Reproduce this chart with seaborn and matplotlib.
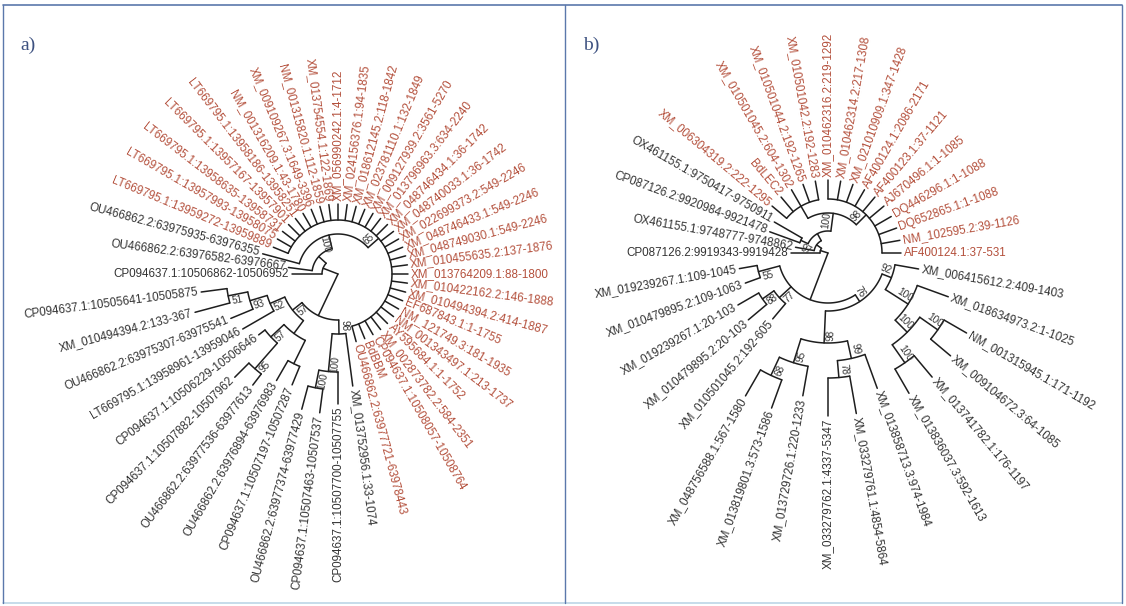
import numpy as np
import pandas as pd
import seaborn as sns
import matplotlib.pyplot as plt

# leaves listed in the order they sit around the circle (clockwise from 9 o'clock)
labels_a = [
    'CP094637.1:10506862-10506952', 'OU466862.2:63976582-63976667', 'OU466862.2:63975935-63976355',
    'LT669795.1:13959272-13959889', 'LT669795.1:13957993-13958075', 'LT669795.1:13958635-13958731',
    'LT669795.1:13957167-13957901', 'LT669795.1:13958186-13958251',
    'NM_001316209.1:43-1780', 'XM_009109267.3:1649-3396', 'NM_001315820.1:112-1859',
    'XM_013754554.1:122-1869', 'XM_056990242.1:4-1712', 'XM_024156376.1:94-1835',
    'XM_018612145.2:118-1842', 'XM_023781110.1:132-1849', 'XM_009127939.2:3561-5270',
    'XM_013796963.3:634-2240', 'XM_048746434.1:36-1742', 'XM_048740033.1:36-1742',
    'XM_022699373.2:549-2246', 'XM_048746433.1:549-2246', 'XM_048749030.1:549-2246',
    'XM_010455635.2:137-1876', 'XM_013764209.1:88-1800', 'XM_010422162.2:146-1888',
    'XM_010494394.2:414-1887', 'EF687843.1:1-1755', 'NM_121749.3:181-1935',
    'NM_001343497.1:213-1737', 'AY595684.1:1-1752', 'XM_002873782.2:584-2351',
    'CP094637.1:10508057-10508764', 'BdBBM', 'OU466862.2:63977721-63978443',
    'XM_013752956.1:33-1074', 'CP094637.1:10507700-10507755', 'CP094637.1:10507463-10507537',
    'OU466862.2:63977374-63977429', 'CP094637.1:10507197-10507287', 'OU466862.2:63976894-63976983',
    'OU466862.2:63977536-63977613', 'CP094637.1:10507882-10507962', 'CP094637.1:10506229-10506646',
    'LT669795.1:13958961-13959046', 'OU466862.2:63975307-63975541', 'XM_010494394.2:133-367',
    'CP094637.1:10505641-10505875',
]
red_a = list(range(3, 35))
# newick with leaf numbers, bootstrap values and branch lengths
tree_a = ("((0:30,(1:24,(2:38,(3:16,4:16,5:16,6:16,7:16,8:16,9:16,10:16,11:16,12:16,13:16,"
          "14:16,15:16,16:16,17:16,18:16,19:16,20:16,21:16,22:16,23:16,24:16,25:16,26:16,27:16,"
          "28:16,29:16,30:16,31:16,32:16,33:16,34:16)65:14)100:14):10):16,"
          "((35:53,(36:32,(37:24,38:24)100:18)100:38)98:14,"
          "(((39:20,40:23):26,((41:14,42:20)95:34,43:8)57:18):16,"
          "(44:36,(45:24,(46:36,47:26)51:20)93:18)52:16)57:12):46);")

labels_b = [
    'CP087126.2:9919343-9919428', 'OX461155.1:9748777-9748862', 'CP087126.2:9920984-9921478',
    'OX461155.1:9750417-9750911', 'XM_006304319.2:222-1295', 'BdLEC2', 'XM_010501045.2:604-1302',
    'XM_010501044.2:192-1265', 'XM_010501042.2:192-1283', 'XM_010462316.2:219-1292',
    'XM_010462314.2:217-1308', 'XM_021010909.1:347-1428', 'AF400124.1:2086-2171',
    'AF400123.1:37-1121', 'AJ670496.1:1-1085', 'DQ446296.1:1-1088', 'DQ652865.1:1-1088',
    'NM_102595.2:39-1126', 'AF400124.1:37-531', 'XM_006415612.2:409-1403',
    'XM_018634973.2:1-1025', 'NM_001315945.1:171-1192', 'XM_009104672.3:64-1085',
    'XM_013741782.1:176-1197', 'XM_013836037.3:592-1613', 'XM_013858713.3:974-1984',
    'XM_033279761.1:4854-5864', 'XM_033279762.1:4337-5347', 'XM_013729726.1:220-1233',
    'XM_013819801.3:573-1586', 'XM_048756588.1:567-1580', 'XM_010501045.2:192-605',
    'XM_010479895.2:20-103', 'XM_019239267.1:20-103', 'XM_010479895.2:109-1063',
    'XM_019239267.1:109-1045',
]
red_b = list(range(4, 19))
tree_b = ("((0:29,(1:19,((2:32,3:32)97:8,((4:19,5:19,6:19,7:19,8:19):14,"
          "(9:19,10:19,11:19,12:19,13:19,14:19,15:19,16:19,17:19,18:19)98:14)100:18):8):6):8,"
          "(((19:24,(20:33,((21:26,22:26)100:22,(23:28,24:28)100:22)100:17)100:27)92:10,"
          "((25:36,(26:38,27:38)78:17)99:18,(28:30,(29:30,30:30)68:20)95:25)98:32)76:8,"
          "(31:20,(32:24,33:24)88:14)77:16,(34:16,35:18)55:22):50);")

RED = '#b4503c'
INK = '#333333'


def parse(s):
    pos = 0

    def node():
        nonlocal pos
        n = {'children': [], 'len': 0.0, 'boot': None, 'leaf': None}
        if s[pos] == '(':
            pos += 1
            while True:
                n['children'].append(node())
                if s[pos] == ',':
                    pos += 1
                    continue
                pos += 1
                break
        st = pos
        while s[pos] not in ':,);':
            pos += 1
        lab = s[st:pos]
        if s[pos] == ':':
            pos += 1
            st = pos
            while s[pos] not in ',);':
                pos += 1
            n['len'] = float(s[st:pos])
        if n['children']:
            n['boot'] = lab or None
        else:
            n['leaf'] = int(lab)
        return n
    return node()


def layout(n, r0, start, step):
    n['r'] = r0 + n['len']
    n['r0'] = r0
    if n['leaf'] is not None:
        n['th'] = start - step * n['leaf']
    else:
        for c in n['children']:
            layout(c, n['r'], start, step)
        n['th'] = (n['children'][0]['th'] + n['children'][-1]['th']) / 2


def walk(n):
    yield n
    for c in n['children']:
        yield from walk(c)


def rot(th):
    th = (th + 180) % 360 - 180
    if -90 < th <= 90:
        return th, 'left'
    return th + 180, 'right'


def draw_tree(ax, tree, labels, red, cx, cy, start, step):
    root = parse(tree)
    layout(root, 0.0, start, step)
    P = lambda r, th: (cx + r * np.cos(np.radians(th)), cy - r * np.sin(np.radians(th)))
    rows = []
    seg = 0
    for n in walk(root):
        if n is not root:
            (x0, y0), (x1, y1) = P(n['r0'], n['th']), P(n['r'], n['th'])
            rows += [(x0, y0, seg), (x1, y1, seg)]
            seg += 1
        if n['children'] and n['r'] > 0:
            a = np.linspace(n['children'][0]['th'], n['children'][-1]['th'], 80)
            for t in a:
                x, y = P(n['r'], t)
                rows.append((x, y, seg))
            seg += 1
        if n['leaf'] is not None:
            x, y = P(n['r'] + 3, n['th'])
            ang, ha = rot(n['th'])
            ax.text(x, y, labels[n['leaf']], rotation=ang, ha=ha, va='center',
                    rotation_mode='anchor', fontsize=8.4,
                    color=RED if n['leaf'] in red else INK)
        elif n['boot']:
            t = np.radians(n['th'])
            u = np.array([np.cos(t), -np.sin(t)])
            v = np.array([-np.sin(t), -np.cos(t)])
            p = np.array([cx, cy]) + (n['r'] - 8) * u + 6 * v
            ang, _ = rot(n['th'])
            ax.text(p[0], p[1], n['boot'], rotation=ang, ha='center', va='center',
                    rotation_mode='anchor', fontsize=7.2, color=INK)
    df = pd.DataFrame(rows, columns=['x', 'y', 'seg'])
    sns.lineplot(data=df, x='x', y='y', units='seg', estimator=None, sort=False,
                 color='#1e1e1e', linewidth=1.1, legend=False, ax=ax)


sns.set_theme(style='white')
plt.rcParams['font.family'] = ['Liberation Sans', 'DejaVu Sans']

fig = plt.figure(figsize=(11.26, 6.06), dpi=100)
ax = fig.add_axes([0, 0, 1, 1])

draw_tree(ax, tree_a, labels_a, red_a, 338, 274, 180, 7.5)
draw_tree(ax, tree_b, labels_b, red_b, 828, 253, 180, 10)

# panel frames
frame = '#5b78ab'
ax.plot([3, 1122], [5, 5], color=frame, lw=1.2)
ax.plot([3, 1122], [603, 603], color='#bcd6e6', lw=1.2)
for xv in (3, 565, 1122):
    ax.plot([xv, xv], [5, 603], color=frame, lw=1.0)
ax.text(20, 45, 'a)', fontsize=14, color='#3d5180', family='Liberation Serif', va='center')
ax.text(583, 45, 'b)', fontsize=14, color='#3d5180', family='Liberation Serif', va='center')

ax.set_xlim(0, 1126)
ax.set_ylim(606, 0)
ax.axis('off')
fig.savefig('out.png', dpi=100, facecolor='white')
